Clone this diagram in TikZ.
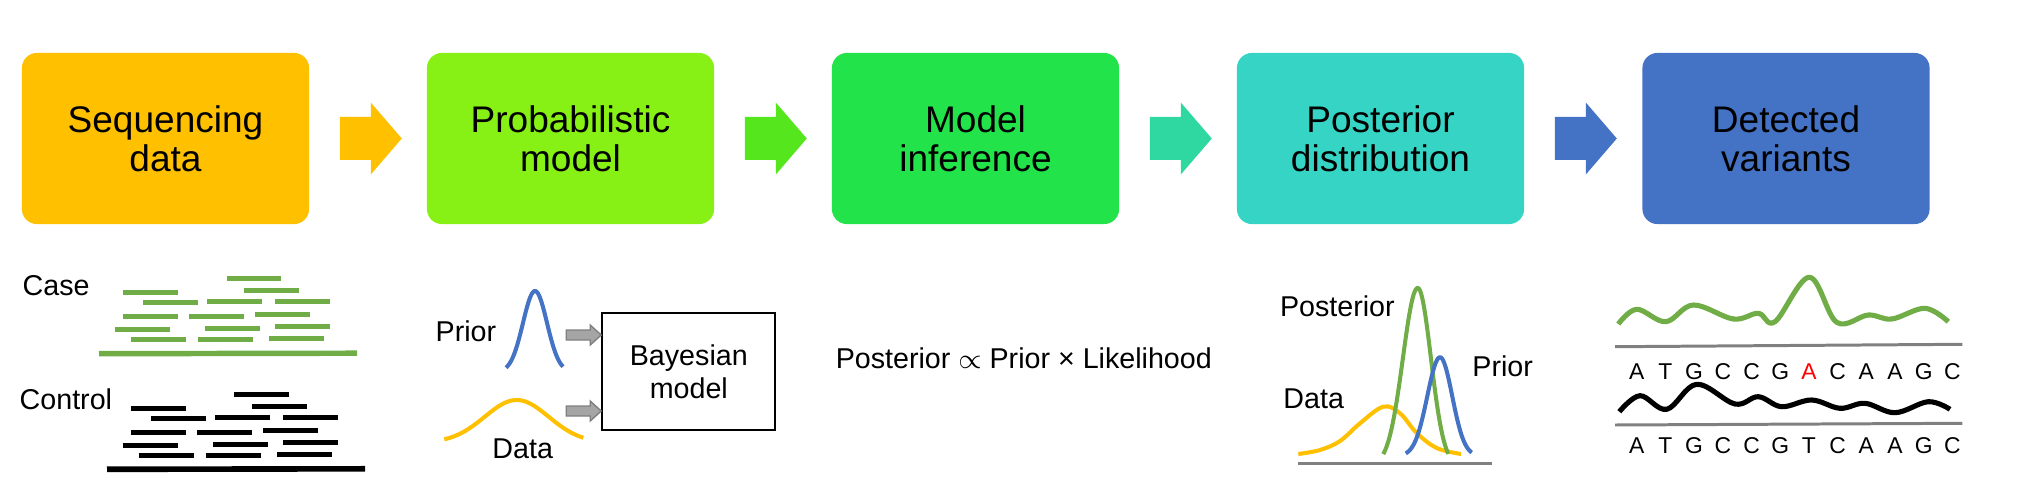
\documentclass[tikz,border=0pt]{standalone}
\usepackage{fontspec}
\setmainfont{Liberation Sans}
\usetikzlibrary{calc}
\definecolor{cA}{HTML}{FFC000}
\definecolor{cB}{HTML}{87F014}
\definecolor{cBa}{HTML}{55E61E}
\definecolor{cC}{HTML}{22E34A}
\definecolor{cCa}{HTML}{2ED8A0}
\definecolor{cD}{HTML}{36D4C4}
\definecolor{cE}{HTML}{4472C4}
\definecolor{lgreen}{HTML}{70AD47}
\definecolor{lblue}{HTML}{4472C4}
\definecolor{lyellow}{HTML}{FFC000}
\definecolor{lgray}{HTML}{808080}
\definecolor{agray}{HTML}{A5A5A5}
% #1 tail point, #2 style, #3 length, #4 head length, #5 half shaft, #6 half head
\newcommand\blockarr[6]{\path[#2] #1 ++(0,-#5) -- ++({#3-#4},0) -- ++(0,{-(#6-#5)}) -- ++(#4,#6) -- ++(-#4,#6) -- ++(0,{-(#6-#5)}) -- ++({-(#3-#4)},0) -- cycle;}
\begin{document}
\begin{tikzpicture}[x=0.01cm,y=-0.01cm,
  stage/.style={rounded corners=0.15cm, minimum width=2.87cm, minimum height=1.71cm,
    align=center, inner sep=0pt, font=\fontsize{10.53pt}{10.98pt}\selectfont},
  lab/.style={inner sep=0pt, font=\fontsize{8.15pt}{9.4pt}\selectfont},
  base/.style={inner sep=0pt, font=\fontsize{6.5pt}{7pt}\selectfont, anchor=base},
  greenread/.style={lgreen, line width=1.4pt},
  blackread/.style={black, line width=1.5pt},
  curve/.style={line width=1.15pt, line join=round},
  wave/.style={line width=1.45pt, line join=round, smooth, tension=0.6},
  axisline/.style={lgray, line width=0.85pt}]
\useasboundingbox (0,0) rectangle (2019,485);

% stage boxes
\node[stage, fill=cA] (s1) at (165.5,138.5) {Sequencing\\data};
\node[stage, fill=cB] (s2) at (570.5,138.5) {Probabilistic\\model};
\node[stage, fill=cC] (s3) at (975.5,138.5) {Model\\inference};
\node[stage, fill=cD] (s4) at (1380.5,138.5) {Posterior\\distribution};
\node[stage, fill=cE] (s5) at (1786,138.5) {Detected\\variants};

% block arrows between stages
\blockarr{($(s1.east)+(30,0)$)}{fill=cA}{62}{31}{21.5}{36}
\blockarr{($(s2.east)+(30,0)$)}{fill=cBa}{62}{31}{21.5}{36}
\blockarr{($(s3.east)+(30,0)$)}{fill=cCa}{62}{31}{21.5}{36}
\blockarr{($(s4.east)+(30,0)$)}{fill=cE}{62}{31}{21.5}{36}

% ---- Sequencing data: reads
\node[lab, anchor=base west] (case) at (22,295) {Case};
\node[lab, anchor=base west] (control) at (19,409) {Control};
\foreach \a/\b/\y in {227/281/278.7, 123/178/292.3, 244/299/290.3, 143/198/302.7, 207/262/301.7,
  275/330/301.7, 123/178/316.7, 189/244/316.7, 255/310/314.3, 115/170/329.3, 205/260/328.7,
  275/330/326.3, 131/186/339.3, 198/253/339.7, 269/324/338.3}
  \draw[greenread] (\a,\y) -- (\b,\y);
\draw[greenread, line width=1.55pt] (99,353.7) -- (357,353.2);
\foreach \a/\b/\y in {234/289/394.3, 131/186/408.3, 252/307/406.3, 151/206/418.3, 215/270/417.3,
  283/338/417.3, 131/186/432.7, 197/252/432.7, 263/318/430.3, 123/178/445.3, 213/268/444.3,
  283/338/442.7, 139/194/455.7, 206/261/455.7, 277/332/454.3}
  \draw[blackread] (\a,\y) -- (\b,\y);
\draw[blackread, line width=1.6pt] (107,469.3) -- (365,468.8);

% ---- Probabilistic model
\node[draw, line width=0.6pt, minimum width=1.73cm, minimum height=1.167cm, align=center,
  inner sep=0pt, font=\fontsize{8.15pt}{9.4pt}\selectfont] (bay) at (688.8,371.7) {Bayesian\\model};
\node[lab, anchor=base west] (priorlab) at (435,341.7) {Prior};
\node[lab, anchor=base west] (datalab) at (491.7,458.3) {Data};
\draw[lblue, curve] plot[domain=506:563, samples=60, smooth] (\x,{372-81*exp(-((\x-535)/12)^2/2)});
\draw[lyellow, curve] plot[domain=444.3:583.3, samples=70, smooth] (\x,{442.6-42.6*exp(-((\x-516.7)/32)^2/2)});
\blockarr{($(bay.west)+(-35,-36.7)$)}{fill=agray, draw=lgray, line width=0.4pt}{35}{11}{5}{10}
\blockarr{($(bay.west)+(-35,39.3)$)}{fill=agray, draw=lgray, line width=0.4pt}{35}{11}{5}{10}

% ---- Model inference
\node[lab, anchor=base] (formula) at (1023.8,368.3) {Posterior $\propto$ Prior × Likelihood};

% ---- Posterior distribution
\draw[axisline] (1298.3,463.3) -- (1491.7,463.3);
\draw[lyellow, curve] plot[smooth, tension=0.6] coordinates {(1298.3,454) (1320,450) (1340,441) (1360,423.3)
  (1383.3,406.7) (1400,413.3) (1416.7,433) (1436.7,448) (1461,454)};
\draw[lgreen, curve] plot[domain=1383.3:1417.7, samples=50, smooth] (\x,{466-178*exp(-((\x-1417.7)/14.8)^2/2)})
  -- plot[domain=1417.7:1448.3, samples=50, smooth] (\x,{466-178*exp(-((\x-1417.7)/13.2)^2/2)});
\draw[lblue, curve] plot[domain=1405.7:1440, samples=50, smooth] (\x,{455.9-98.6*exp(-((\x-1440)/12.7)^2/2)})
  -- plot[domain=1440:1471.7, samples=50, smooth] (\x,{455.9-98.6*exp(-((\x-1440)/12.2)^2/2)});
\node[lab, anchor=base west] (postlab) at (1279.3,316.7) {Posterior};
\node[lab, anchor=base west] (priorlab2) at (1471.7,376.7) {Prior};
\node[lab, anchor=base west] (datalab2) at (1282.7,408.3) {Data};

% ---- Detected variants
\draw[lgreen, wave] plot coordinates {(1618.3,324) (1636.7,309.3) (1665.7,321.7) (1693.3,305)
  (1733.3,319) (1758.3,313.3) (1775,321.7) (1809.3,277.3) (1836.7,322.3) (1868.3,315)
  (1891.7,319) (1925,308.3) (1948.3,321.7)};
\draw[axisline] (1615,346.7) -- (1962.3,344.3);
\draw[black, wave] plot coordinates {(1619.3,411.7) (1640,395.7) (1666.7,409.3) (1696.7,384.3)
  (1735,404) (1758.3,396.7) (1781.7,406.7) (1811.7,400) (1840,408.3) (1865,403.3)
  (1895,412.7) (1928.3,401.7) (1950,409.3)};
\draw[axisline] (1615,425) -- (1962.3,423.3);
\foreach \l [count=\i from 0] in {A,T,G,C,C,G,A,C,A,A,G,C}{
  \ifnum\i=6
    \node[base, text=red] (v\i) at ({1636.7+28.7*\i},379) {\l};
  \else
    \node[base] (v\i) at ({1636.7+28.7*\i},379) {\l};
  \fi
}
\foreach \l [count=\i from 0] in {A,T,G,C,C,G,T,C,A,A,G,C}
  \node[base] (r\i) at ({1636.7+28.7*\i},453.3) {\l};
\end{tikzpicture}
\end{document}
